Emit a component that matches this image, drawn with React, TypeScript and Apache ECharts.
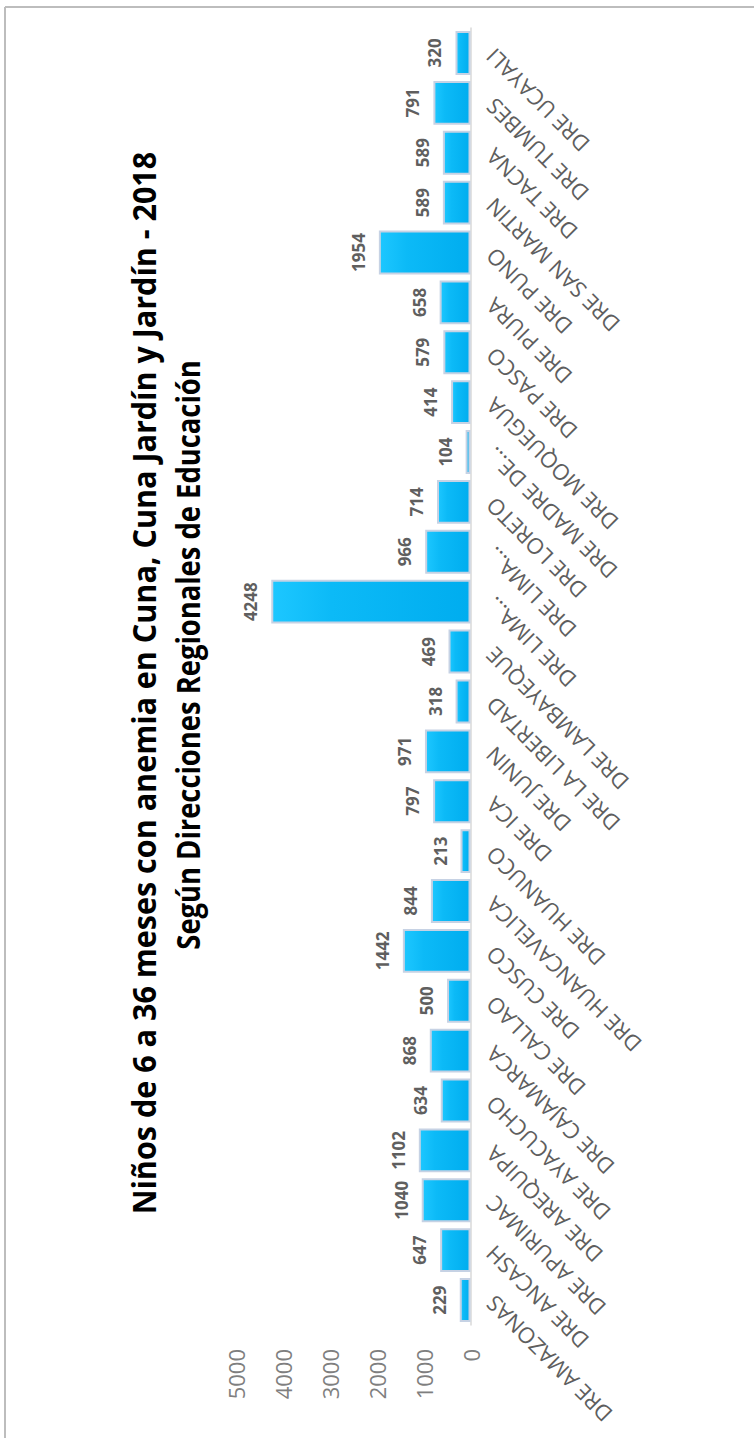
import React, { useEffect, useRef } from 'react';
import * as echarts from 'echarts';

const categories = [
  'DRE AMAZONAS', 'DRE ANCASH', 'DRE APURIMAC', 'DRE AREQUIPA', 'DRE AYACUCHO',
  'DRE CAJAMARCA', 'DRE CALLAO', 'DRE CUSCO', 'DRE HUANCAVELICA', 'DRE HUANUCO',
  'DRE ICA', 'DRE JUNIN', 'DRE LA LIBERTAD', 'DRE LAMBAYEQUE', 'DRE LIMA...',
  'DRE LIMA...', 'DRE LORETO', 'DRE MADRE DE...', 'DRE MOQUEGUA', 'DRE PASCO',
  'DRE PIURA', 'DRE PUNO', 'DRE SAN MARTIN', 'DRE TACNA', 'DRE TUMBES', 'DRE UCAYALI',
];
const values = [
  229, 647, 1040, 1102, 634, 868, 500, 1442, 844, 213, 797, 971, 318, 469, 4248,
  966, 714, 104, 414, 579, 658, 1954, 589, 589, 791, 320,
];
const valueMax = 5000;
const valueStep = 1000;
const titleLine1 = 'Niños de 6 a 36 meses con anemia en Cuna, Cuna Jardín y Jardín - 2018';
const titleLine2 = 'Según Direcciones Regionales de Educación';

// Chart is drawn in landscape and rotated 90° counter-clockwise into the portrait page.
const W = 1438;
const H = 754;
const TITLE_FONT = 'bold 32px "Open Sans"';

function measure(text: string, font: string): number {
  const c = document.createElement('canvas').getContext('2d');
  if (!c) return 1;
  c.font = font;
  return c.measureText(text).width || 1;
}

export default function App() {
  const ref = useRef<HTMLDivElement>(null);
  useEffect(() => {
    if (!ref.current) return;
    const chart = echarts.init(ref.current, null, { renderer: 'svg', width: W, height: H });
    const s1 = 1063 / measure(titleLine1, TITLE_FONT);
    const s2 = 590 / measure(titleLine2, TITLE_FONT);
    chart.setOption({
      animation: false,
      backgroundColor: '#ffffff',
      grid: { left: 113, right: 28, top: 236, bottom: 283.5, containLabel: false },
      xAxis: {
        type: 'category',
        data: categories,
        axisLine: { show: true, lineStyle: { color: '#d9d9d9', width: 1.5 } },
        axisTick: { show: false },
        axisLabel: {
          interval: 0,
          rotate: 45,
          margin: 19,
          fontFamily: 'Open Sans',
          fontSize: 22,
          color: '#5e5e5e',
        },
      },
      yAxis: {
        type: 'value',
        min: 0,
        max: valueMax,
        interval: valueStep,
        splitLine: { show: false },
        axisLine: { show: false },
        axisTick: { show: false },
        axisLabel: {
          margin: 24,
          fontFamily: 'Open Sans',
          fontSize: 22,
          color: '#7f7f7f',
          formatter: (v: number) => String(v),
        },
      },
      series: [
        {
          type: 'bar',
          data: values,
          barCategoryGap: '12%',
          itemStyle: {
            color: {
              type: 'linear', x: 0, y: 0, x2: 0, y2: 1,
              colorStops: [
                { offset: 0, color: '#1dc7ff' },
                { offset: 0.3, color: '#0cbaf7' },
                { offset: 1, color: '#00adef' },
              ],
            },
            borderColor: '#c6d2e4',
            borderWidth: 2,
          },
          label: {
            show: true,
            position: 'top',
            distance: 12,
            fontFamily: 'Open Sans',
            fontWeight: 'bold',
            fontSize: 17,
            color: '#5f5f5f',
          },
        },
      ],
      graphic: [
        { type: 'line', silent: true, shape: { x1: 0, y1: 5, x2: 1431, y2: 5 }, style: { stroke: '#bdbdbd', lineWidth: 2 } },
        { type: 'line', silent: true, shape: { x1: 1431, y1: 5, x2: 1431, y2: H }, style: { stroke: '#bdbdbd', lineWidth: 2 } },
        {
          type: 'text', x: 755, y: 143.5, scaleX: s1, scaleY: 1,
          style: { text: titleLine1, font: TITLE_FONT, fill: '#000000', textAlign: 'center', textVerticalAlign: 'middle' },
        },
        {
          type: 'text', x: 783, y: 187.5, scaleX: s2, scaleY: 1,
          style: { text: titleLine2, font: TITLE_FONT, fill: '#000000', textAlign: 'center', textVerticalAlign: 'middle' },
        },
      ],
    });
    return () => chart.dispose();
  }, []);
  return (
    <div
      ref={ref}
      style={{
        position: 'absolute',
        left: 0,
        top: 0,
        width: W,
        height: H,
        transformOrigin: '0 0',
        transform: `translateY(${W}px) rotate(-90deg)`,
        background: '#ffffff',
      }}
    />
  );
}
